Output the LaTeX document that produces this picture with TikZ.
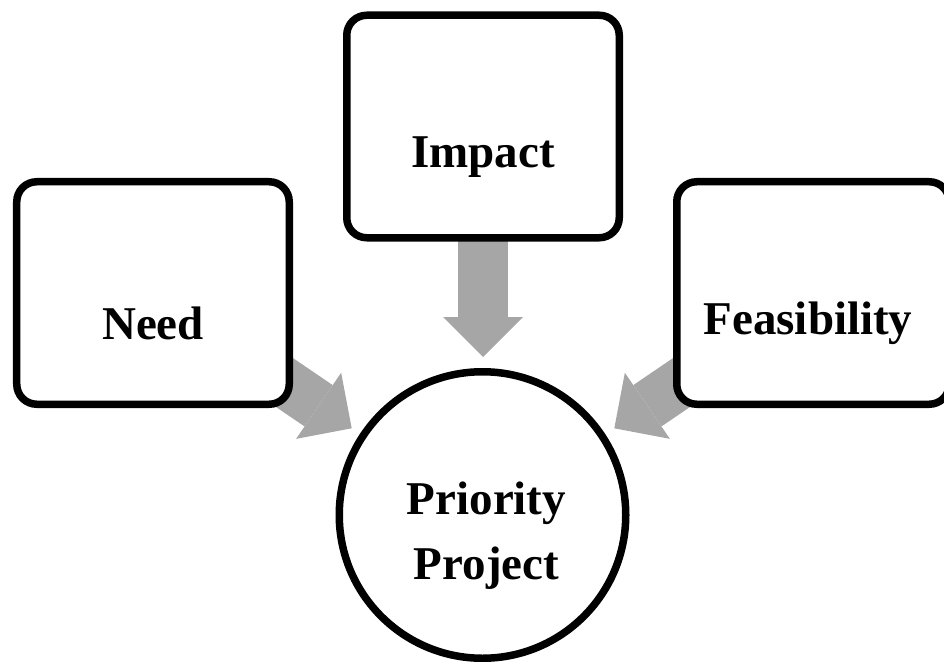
\documentclass[tikz,border=0pt]{standalone}
\usepackage{fontspec}
\setmainfont{Liberation Serif}
\usetikzlibrary{arrows.meta,backgrounds}
\definecolor{arrowgray}{HTML}{A6A6A6}
\tikzset{
  boxnode/.style={draw=black, line width=7.5bp, fill=white, rounded corners=20bp,
    minimum width=272.5bp, minimum height=222.5bp, inner sep=0pt},
  circnode/.style={circle, draw=black, line width=7.5bp, fill=white,
    minimum size=286.5bp, inner sep=0pt},
  lbl/.style={font=\bfseries\fontsize{47bp}{65bp}\selectfont, inner sep=0pt, text=black},
  fatarrow/.style={draw=arrowgray, fill=arrowgray, line width=50bp,
    -{Triangle[length=40bp 0 1, width=80bp 0 1, line width=0pt]}}
}
\begin{document}
\begin{tikzpicture}[x=1bp,y=-1bp]
  \useasboundingbox (0,0) rectangle (944,662);
  \node[boxnode, label={[lbl, anchor=base, yshift=-30bp]center:Need}] (need) at (153,293) {};
  \node[boxnode, label={[lbl, anchor=base, yshift=-30.5bp]center:Impact}] (impact) at (483,126.5) {};
  \node[boxnode, label={[lbl, anchor=base, yshift=-30bp, xshift=-5bp]center:Feasibility}] (feas) at (813,293) {};
  \node[circnode, label={[lbl, align=center, anchor=center, yshift=-21bp, xshift=4bp]center:{Priority\\Project}}] (prio) at (482.5,515) {};
  \coordinate (needtip) at (351.7,428.3);
  \coordinate (impacttip) at (483,357);
  \coordinate (feastip) at (614.3,428.3);
  \begin{scope}[on background layer]
    \draw[fatarrow] (need.center) -- (needtip);
    \draw[fatarrow] (impact.center) -- (impacttip);
    \draw[fatarrow] (feas.center) -- (feastip);
  \end{scope}
\end{tikzpicture}
\end{document}
